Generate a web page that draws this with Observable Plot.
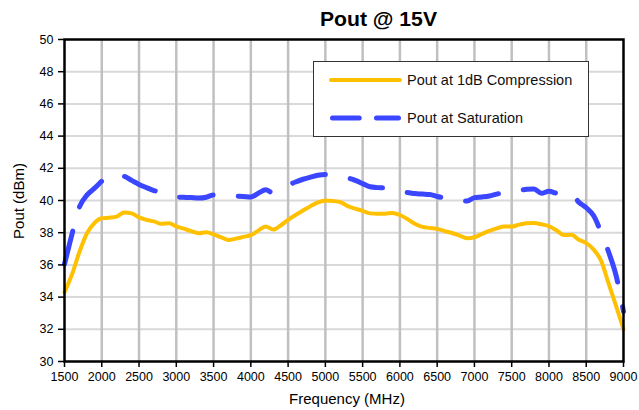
<!DOCTYPE html>
<html>
<head>
<meta charset="utf-8">
<script src="https://cdn.jsdelivr.net/npm/d3@7"></script>
<script src="https://cdn.jsdelivr.net/npm/@observablehq/plot@0.6"></script>
<style>
  html, body { margin: 0; padding: 0; background: #fff; }
  #wrap { position: relative; width: 639px; height: 410px; font-family: "Liberation Sans", Arial, sans-serif; }
  #wrap > svg.overlay { position: absolute; left: 0; top: 0; pointer-events: none; }
</style>
</head>
<body>
<div id="wrap"></div>
<script>
// ---- data ----
const freq = [1500,1600,1700,1800,1900,2000,2100,2200,2300,2400,2500,2600,2700,2800,2900,3000,3100,3200,3300,3400,3500,3600,3700,3800,3900,4000,4100,4200,4300,4400,4500,4600,4700,4800,4900,5000,5100,5200,5300,5400,5500,5600,5700,5800,5900,6000,6100,6200,6300,6400,6500,6600,6700,6800,6900,7000,7100,7200,7300,7400,7500,7600,7700,7800,7900,8000,8100,8200,8300,8400,8500,8600,8700,8800,8900,9000];
const pout1dB = [34.3,35.4,36.8,37.95,38.6,38.9,38.93,39.0,39.25,39.2,38.95,38.8,38.7,38.55,38.59,38.4,38.25,38.1,37.97,38.03,37.9,37.72,37.55,37.63,37.74,37.85,38.13,38.39,38.2,38.45,38.8,39.1,39.38,39.65,39.88,40.0,39.97,39.9,39.65,39.5,39.35,39.2,39.17,39.18,39.23,39.1,38.85,38.55,38.36,38.3,38.24,38.1,37.98,37.82,37.66,37.72,37.92,38.12,38.27,38.38,38.38,38.5,38.58,38.6,38.52,38.4,38.15,37.85,37.87,37.56,37.35,36.95,36.25,34.85,33.45,32.0];
const poutSat = [36.05,37.9,39.6,40.33,40.75,41.2,41.55,41.55,41.5,41.25,41.0,40.8,40.62,40.5,40.35,40.22,40.2,40.18,40.15,40.2,40.35,40.33,40.28,40.27,40.25,40.22,40.45,40.66,40.47,40.7,40.95,41.15,41.32,41.45,41.57,41.62,41.58,41.5,41.4,41.25,41.05,40.85,40.8,40.78,40.65,40.55,40.5,40.43,40.4,40.37,40.25,40.15,40.05,39.95,39.97,40.18,40.22,40.28,40.4,40.5,40.58,40.62,40.7,40.72,40.45,40.58,40.45,40.38,40.42,39.9,39.55,39.05,38.0,36.8,35.35,33.1];
const xTicks = [1500,2000,2500,3000,3500,4000,4500,5000,5500,6000,6500,7000,7500,8000,8500,9000];
const yTicks = [30,32,34,36,38,40,42,44,46,48,50];
const seriesNames = ["Pout at 1dB Compression", "Pout at Saturation"];
const titleText = "Pout @ 15V";
const xLabel = "Frequency (MHz)";
const yLabel = "Pout (dBm)";

const rows1 = freq.map((f, i) => ({f, v: pout1dB[i]}));
const rows2 = freq.map((f, i) => ({f, v: poutSat[i]}));

const YELLOW = "#FFC000";
const BLUE = "#3A46FF";

const chart = Plot.plot({
  width: 639,
  height: 410,
  marginLeft: 64,
  marginRight: 16,
  marginTop: 39,
  marginBottom: 49,
  style: {fontFamily: "'Liberation Sans', Arial, sans-serif", fontSize: "12.5px", color: "#000", background: "#fff"},
  x: {domain: [1500, 9000], label: null},
  y: {domain: [30, 50], label: null},
  marks: [
    Plot.gridY(yTicks.slice(1, -1), {stroke: "#d9d9d9", strokeWidth: 2, strokeOpacity: 1}),
    Plot.gridX(xTicks.slice(1, -1), {stroke: "#c0c0c0", strokeWidth: 2.5, strokeOpacity: 1}),
    Plot.line(rows1, {x: "f", y: "v", stroke: YELLOW, strokeWidth: 4, curve: "monotone-x", strokeLinecap: "round", strokeLinejoin: "round"}),
    Plot.line(rows2, {x: "f", y: "v", stroke: BLUE, strokeWidth: 5, curve: "monotone-x", strokeDasharray: "34,25.2", strokeLinecap: "round", strokeLinejoin: "round"}),
    Plot.frame({stroke: "#000", strokeWidth: 2.5}),
    Plot.axisY(yTicks, {tickSize: 6, tickPadding: 5, stroke: "#000", strokeWidth: 1.5, label: null, fill: "#000"}),
    Plot.axisX(xTicks, {tickSize: 6, tickPadding: 5, stroke: "#000", strokeWidth: 1.5, label: null, fill: "#000", tickFormat: d => String(d)})
  ]
});

const wrap = document.getElementById("wrap");
wrap.appendChild(chart);

// overlay: title, axis labels, legend
const ns = "http://www.w3.org/2000/svg";
const ov = document.createElementNS(ns, "svg");
ov.setAttribute("class", "overlay");
ov.setAttribute("width", 639);
ov.setAttribute("height", 410);
ov.style.fontFamily = "'Liberation Sans', Arial, sans-serif";
function el(tag, attrs, text) {
  const e = document.createElementNS(ns, tag);
  for (const k in attrs) e.setAttribute(k, attrs[k]);
  if (text != null) e.textContent = text;
  ov.appendChild(e);
  return e;
}
el("text", {x: 378.5, y: 26, "text-anchor": "middle", "font-size": 20, "font-weight": "bold", fill: "#000", textLength: 117, lengthAdjust: "spacingAndGlyphs"}, titleText);
el("text", {x: 347, y: 404, "text-anchor": "middle", "font-size": 15, fill: "#000"}, xLabel);
el("text", {x: 0, y: 0, "text-anchor": "middle", "font-size": 15, fill: "#000", transform: "translate(24,201) rotate(-90)"}, yLabel);
// legend
el("rect", {x: 313.5, y: 61.5, width: 275, height: 75, fill: "#fff", stroke: "#333", "stroke-width": 1});
el("line", {x1: 331, x2: 400, y1: 80, y2: 80, stroke: YELLOW, "stroke-width": 4, "stroke-linecap": "round"});
el("line", {x1: 332.5, x2: 398.5, y1: 118, y2: 118, stroke: BLUE, "stroke-width": 5, "stroke-linecap": "round", "stroke-dasharray": "26.7,17.3"});
el("text", {x: 407, y: 85, "font-size": 14.5, fill: "#111"}, seriesNames[0]);
el("text", {x: 407, y: 123, "font-size": 14.5, fill: "#111"}, seriesNames[1]);
wrap.appendChild(ov);
</script>
</body>
</html>
